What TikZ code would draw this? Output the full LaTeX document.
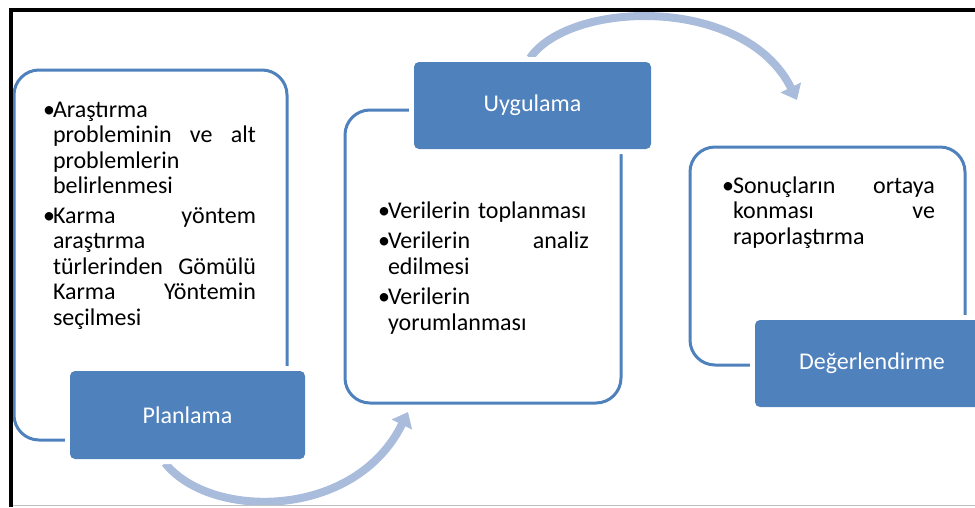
\documentclass[tikz,border=0pt]{standalone}
\usepackage{fontspec}
\setmainfont{Carlito}
\usetikzlibrary{arrows.meta}
\definecolor{boxblue}{HTML}{4F81BD}
\definecolor{arrowblue}{HTML}{A9BCDC}
\newcommand{\bul}{\makebox[10pt][l]{•}}
\newcommand{\ind}{\hspace*{10pt}}
\begin{document}
\begin{tikzpicture}[x=1pt,y=-1pt,inner sep=0pt,outer sep=0pt,
outlinebox/.style={draw=boxblue,line width=3pt,rectangle,rounded corners=25pt},
labelbox/.style={preaction={draw=white,line width=10pt},fill=boxblue,rectangle,rounded corners=5pt,text=white,font=\fontsize{24}{26}\selectfont},
bodytext/.style={anchor=base west,align=left,text width=240pt,font=\fontsize{24}{25.5}\selectfont},
turnarrow/.style={draw=arrowblue,line width=8pt,-{Triangle[width=22pt,length=14pt]}}]
\useasboundingbox (0,0) rectangle (975,507);
\coordinate (a1start) at (165,463);
\coordinate (a1end) at (408,412);
\coordinate (a2start) at (530,58);
\coordinate (a2end) at (797,100);
\draw[turnarrow] (a1start) .. controls (210,520) and (355,520) .. (a1end);
\draw[turnarrow] (a2start) .. controls (570,0) and (745,-5) .. (a2end);
\draw (150.5,255) node[outlinebox,minimum width=273pt,minimum height=370pt] (planbox) {};
\draw (483,256.5) node[outlinebox,minimum width=276pt,minimum height=293pt] (uygbox) {};
\draw (827.5,256) node[outlinebox,minimum width=275pt,minimum height=218pt] (degbox) {};
\draw (187.5,415) node[labelbox,minimum width=235pt,minimum height=88pt] (planlabel) {Planlama};
\draw (532.5,105.5) node[labelbox,minimum width=237pt,minimum height=87pt] (uyglabel) {Uygulama};
\draw (872,363.5) node[labelbox,minimum width=234pt,minimum height=87pt] (deglabel) {Değerlendirme};
\draw (43,117) node[bodytext] (plantext) {\bul Araştırma\\
\ind\makebox[203pt][s]{probleminin\hfill ve\hfill alt}\\
\ind problemlerin\\
\ind belirlenmesi\\[4pt]
\bul\makebox[203pt][s]{Karma\hfill yöntem}\\
\ind araştırma\\
\ind\makebox[203pt][s]{türlerinden\hfill Gömülü}\\
\ind\makebox[203pt][s]{Karma\hfill Yöntemin}\\
\ind seçilmesi};
\draw (378,218) node[bodytext] (uygtext) {\bul Verilerin toplanması\\[5pt]
\bul\makebox[201pt][s]{Verilerin\hfill analiz}\\
\ind edilmesi\\[5pt]
\bul Verilerin\\
\ind yorumlanması};
\draw (722,193) node[bodytext] (degtext) {\makebox[11pt][l]{•}\makebox[202pt][s]{Sonuçların\hfill ortaya}\\
\hspace*{11pt}\makebox[202pt][s]{konması\hfill ve}\\
\hspace*{11pt}raporlaştırma};
\draw[gray!50,line width=1pt] (11,505) -- (975,505);
\draw[line width=4pt] (11,507) -- (11,10) -- (975,10);
\end{tikzpicture}
\end{document}
